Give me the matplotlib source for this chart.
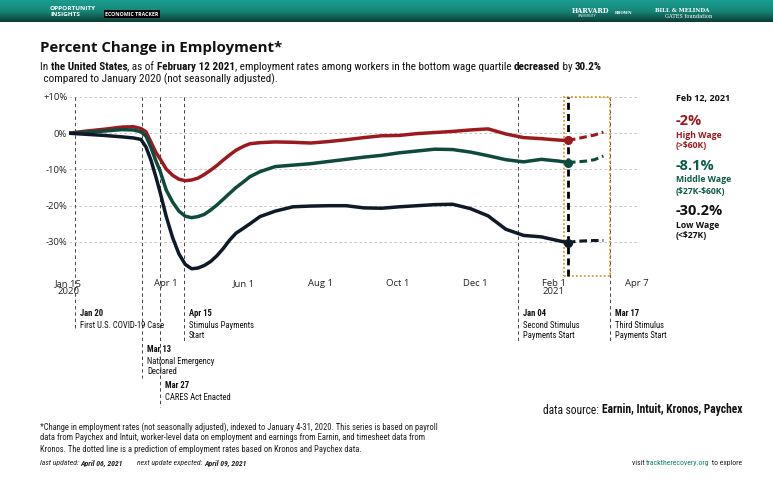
import matplotlib
matplotlib.use("Agg")
import matplotlib.pyplot as plt
import matplotlib.dates as mdates
import matplotlib.transforms as mtransforms
from matplotlib import font_manager
from matplotlib.patches import Rectangle
import numpy as np
import pandas as pd

# ---- data ----
dates = pd.to_datetime([
    "2020-01-15", "2020-01-29", "2020-02-12", "2020-02-26", "2020-03-06", "2020-03-12",
    "2020-03-16", "2020-03-20", "2020-03-24", "2020-03-27", "2020-04-01", "2020-04-06",
    "2020-04-11", "2020-04-16", "2020-04-21", "2020-04-26", "2020-05-01", "2020-05-06",
    "2020-05-11", "2020-05-16", "2020-05-21", "2020-05-26", "2020-06-01", "2020-06-06",
    "2020-06-14", "2020-06-26", "2020-07-10", "2020-07-24", "2020-08-07", "2020-08-21",
    "2020-09-04", "2020-09-18", "2020-10-02", "2020-10-16", "2020-10-30", "2020-11-13",
    "2020-11-27", "2020-12-11", "2020-12-25", "2021-01-08", "2021-01-22", "2021-02-05",
    "2021-02-12",
])
high_wage = [0, 0.6, 1.1, 1.7, 1.8, 1.3, 0.4, -2.5, -5.4, -7.0, -9.9, -11.6,
             -12.7, -13.1, -12.9, -12.4, -11.4, -10.2, -8.9, -7.4, -6.0, -4.7, -3.6, -2.9,
             -2.6, -2.4, -2.5, -2.7, -2.3, -1.8, -1.2, -0.7, -0.6, -0.1, 0.2, 0.5,
             0.9, 1.2, -0.2, -1.2, -1.5, -1.9, -2.0]
middle_wage = [0, 0.3, 0.6, 1.0, 0.9, 0.4, -0.8, -4.0, -7.8, -10.3, -15.7, -19.0,
               -21.5, -22.9, -23.3, -23.0, -22.4, -21.2, -19.8, -18.2, -16.6, -15.0, -13.4, -12.0,
               -10.6, -9.2, -8.8, -8.4, -7.8, -7.2, -6.6, -6.1, -5.4, -4.9, -4.4, -4.5,
               -5.2, -6.2, -7.3, -7.9, -7.2, -7.7, -8.1]
low_wage = [0, -0.3, -0.6, -1.0, -1.3, -1.7, -3.8, -7.5, -12.3, -16.1, -23.0, -28.8,
            -33.3, -36.2, -37.4, -37.2, -36.5, -35.4, -33.8, -31.8, -29.5, -27.6, -26.2, -25.0,
            -23.0, -21.5, -20.3, -20.1, -20.0, -20.0, -20.6, -20.7, -20.3, -20.0, -19.7, -19.6,
            -20.8, -22.8, -26.5, -28.2, -28.6, -29.7, -30.2]

pred_dates = pd.to_datetime(["2021-02-12", "2021-02-19", "2021-02-26", "2021-03-05", "2021-03-12"])
high_pred = [-2.0, -1.5, -1.0, -0.5, 0.3]
middle_pred = [-8.1, -7.9, -7.7, -7.3, -6.3]
low_pred = [-30.2, -29.8, -29.7, -29.6, -29.6]

tick_dates = pd.to_datetime(["2020-01-15", "2020-04-01", "2020-06-01", "2020-08-01",
                             "2020-10-01", "2020-12-01", "2021-02-01", "2021-04-07"])
tick_labels = ["Jan 15\n2020", "Apr 1", "Jun 1", "Aug 1", "Oct 1", "Dec 1", "Feb 1\n2021", "Apr 7"]
y_ticks = [10, 0, -10, -20, -30]
y_labels = ["+10%", "0%", "-10%", "-20%", "-30%"]

# event date, bold label, description lines, pixel y of label, pixel y where the line stops
events = [
    ("2020-01-20", "Jan 20", ["First U.S. COVID-19 Case"], 314, 329),
    ("2020-03-13", "Mar 13", ["National Emergency", "Declared"], 350, 378),
    ("2020-03-27", "Mar 27", ["CARES Act Enacted"], 386, 407),
    ("2020-04-15", "Apr 15", ["Stimulus Payments", "Start"], 314, 343),
    ("2021-01-04", "Jan 04", ["Second Stimulus", "Payments Start"], 314, 343),
    ("2021-03-17", "Mar 17", ["Third Stimulus", "Payments Start"], 314, 343),
]

RED = "#9c1a1f"
GREEN = "#0e4a3d"
GREEN_TXT = "#0c5a47"
NAVY = "#0f1a28"
W, H = 773, 483


def pick(*names):
    for n in names:
        try:
            font_manager.findfont(font_manager.FontProperties(family=n), fallback_to_default=False)
            return n
        except Exception:
            pass
    return "DejaVu Sans"


NARROW = pick("Liberation Sans Narrow", "Roboto Condensed", "Open Sans", "Noto Sans")
MAIN = pick("Open Sans", "Noto Sans")
plt.rcParams["font.family"] = MAIN

fig = plt.figure(figsize=(W / 100, H / 100), dpi=100)
fig.patch.set_facecolor("white")


def fy(p):
    return 1 - p / H


def fx(p):
    return p / W


def rich(x, y, parts, size, family, ha="left"):
    """Place runs of text (text, weight, color, style) side by side at pixel (x, y)."""
    r = fig.canvas.get_renderer()
    objs = []
    for txt, weight, color, style in parts:
        t = fig.text(0, fy(y), txt, fontsize=size, fontweight=weight, color=color,
                     fontstyle=style, family=family, va="center", ha="left")
        objs.append(t)
    widths = [t.get_window_extent(r).width for t in objs]
    start = x if ha == "left" else x - sum(widths)
    for t, w in zip(objs, widths):
        t.set_x(fx(start))
        start += w


# ---- header band ----
hax = fig.add_axes([0, fy(22), 1, 22 / H])
grad = np.linspace(0, 1, 50)[:, None]
cmap = matplotlib.colors.LinearSegmentedColormap.from_list("hdr", ["#1c9d8f", "#168678", "#0b3d37"])
hax.imshow(grad, aspect="auto", cmap=cmap, extent=[0, 1, 0, 1])
hax.set_axis_off()
fig.text(fx(50), fy(8), "OPPORTUNITY", color="white", fontsize=4.6, fontweight="bold", va="center")
fig.text(fx(50), fy(15), "INSIGHTS", color="white", fontsize=4.6, fontweight="bold", va="center")
fig.text(fx(105), fy(14), "ECONOMIC TRACKER", color="white", fontsize=3.8, fontweight="bold", va="center",
         bbox=dict(boxstyle="square,pad=0.25", fc="black", ec="none"))
fig.text(fx(572), fy(11), "HARVARD", color="white", fontsize=4.8, fontweight="bold", va="center", family="DejaVu Serif")
fig.text(fx(578), fy(16), "UNIVERSITY", color="white", fontsize=2.4, va="center")
fig.text(fx(615), fy(13), "BROWN", color="white", fontsize=2.8, fontweight="bold", va="center", family="DejaVu Serif")
fig.text(fx(655), fy(10), "BILL & MELINDA", color="white", fontsize=4.0, fontweight="bold", va="center", family="DejaVu Serif")
fig.text(fx(665), fy(16), "GATES foundation", color="white", fontsize=3.6, va="center", family="DejaVu Serif")

# ---- titles ----
fig.text(fx(40), fy(48), "Percent Change in Employment*", fontsize=10.8, fontweight="bold",
         color="#111", va="center")
rich(40, 67, [("In ", "normal", "#111", "normal"), ("the United States", "bold", "#111", "normal"),
              (", as of ", "normal", "#111", "normal"), ("February 12 2021", "bold", "#111", "normal"),
              (", employment rates among workers in the bottom wage quartile ", "normal", "#111", "normal"),
              ("decreased", "bold", "#111", "normal"), (" by ", "normal", "#111", "normal"),
              ("30.2%", "bold", "#111", "normal")], 8.05, NARROW)
fig.text(fx(41), fy(79), " compared to January 2020 (not seasonally adjusted).", fontsize=8.05,
         family=NARROW, color="#111", va="center")

# ---- main axes ----
left_px, right_px, top_px, bot_px = 68.7, 640, 97, 276
ax = fig.add_axes([fx(left_px), fy(bot_px), fx(right_px - left_px), (bot_px - top_px) / H])
x0 = pd.Timestamp("2020-01-15")
x1 = x0 + pd.Timedelta(days=(right_px - left_px) / 1.267)
ax.set_xlim(x0, x1)
ax.set_ylim(-39.4, 10)
for s in ax.spines.values():
    s.set_visible(False)
for yv in y_ticks:
    ax.axhline(yv, color="#bdbdbd", lw=0.6, dashes=(3, 3), zorder=1)
ax.set_yticks(y_ticks)
ax.set_yticklabels(y_labels)
ax.set_xticks(tick_dates)
ax.set_xticklabels(tick_labels)
ax.tick_params(length=0, labelsize=6.8, colors="#222", pad=2)
ax.tick_params(axis="y", pad=1)
for lab in ax.get_xticklabels():
    lab.set_linespacing(0.9)

# event lines and labels
blend = mtransforms.blended_transform_factory(ax.transData, fig.transFigure)
txt_trans = mtransforms.offset_copy(blend, fig=fig, x=5, y=0, units="dots")
for d, head, lines, ly, stop in events:
    dd = pd.Timestamp(d)
    ax.plot([dd, dd], [fy(top_px), fy(stop)], transform=blend, color="#444", lw=0.7,
            dashes=(3.5, 3), clip_on=False, zorder=1)
    ax.text(dd, fy(ly), head, transform=txt_trans, fontsize=6.2, fontweight="bold",
            color="#111", va="center", family=NARROW)
    for i, ln in enumerate(lines):
        ax.text(dd, fy(ly + 11 + 11 * i), ln, transform=txt_trans, fontsize=6.2,
                color="#111", va="center", family=NARROW)

# prediction box and latest-date marker line
box_l = pd.Timestamp("2021-02-09")
box_r = pd.Timestamp("2021-03-17")
ax.add_patch(Rectangle((mdates.date2num(box_l), -39.4), mdates.date2num(box_r) - mdates.date2num(box_l),
                       49.4, fill=False, ec="#d99a2b", lw=1.3, ls=(0, (1, 1.2)), zorder=2, clip_on=False))
feb12 = pd.Timestamp("2021-02-12")
ax.plot([feb12, feb12], [-39.4, 10], color="black", lw=2, dashes=(2.5, 1.5), zorder=3, clip_on=False)

# series
for vals, pred, col in [(high_wage, high_pred, RED), (middle_wage, middle_pred, GREEN),
                        (low_wage, low_pred, NAVY)]:
    ax.plot(dates, vals, color=col, lw=2.5, solid_capstyle="round", solid_joinstyle="round", zorder=4)
    ax.plot(pred_dates, pred, color=col, lw=2.2, dashes=(2.5, 1.3), zorder=4)
    ax.plot([dates[-1]], [vals[-1]], "o", color=col, ms=5.5, zorder=5)

# ---- right-hand labels ----
fig.text(fx(676), fy(98), "Feb 12, 2021", fontsize=6.5, fontweight="bold", color="#111", va="center")
for val, name, rng, col, y in [("-2%", "High Wage", r"(>\$60K)", RED, 121),
                               ("-8.1%", "Middle Wage", r"(\$27K-\$60K)", GREEN_TXT, 166),
                               ("-30.2%", "Low Wage", r"(<\$27K)", "#111", 211)]:
    fig.text(fx(676), fy(y), val, fontsize=10.5, fontweight="bold", color=col, va="center")
    fig.text(fx(676), fy(y + 14), name, fontsize=6.2, fontweight="bold", color=col, va="center")
    fig.text(fx(676), fy(y + 25), rng, fontsize=6.2, fontweight="bold", color=col, va="center")

# ---- footer ----
rich(742, 410, [("data source: ", "normal", "#111", "normal"),
                ("Earnin, Intuit, Kronos, Paychex", "bold", "#111", "normal")], 8.3, NARROW, ha="right")
foot = ["*Change in employment rates (not seasonally adjusted), indexed to January 4-31, 2020. This series is based on payroll",
        "data from Paychex and Intuit, worker-level data on employment and earnings from Earnin, and timesheet data from",
        "Kronos. The dotted line is a prediction of employment rates based on Kronos and Paychex data."]
for i, ln in enumerate(foot):
    fig.text(fx(40), fy(427 + 11 * i), ln, fontsize=6.2, family=NARROW, color="#222", va="center")
rich(40, 463, [("last updated: ", "normal", "#222", "italic"), ("April 06, 2021", "bold", "#222", "italic")],
     5.6, NARROW)
rich(137, 463, [("next update expected: ", "normal", "#222", "italic"),
                ("April 09, 2021", "bold", "#222", "italic")], 5.6, NARROW)
rich(742, 463, [("visit ", "normal", "#222", "normal"), ("tracktherecovery.org", "normal", "#12806f", "normal"),
                (" to explore", "normal", "#222", "normal")], 5.6, NARROW, ha="right")

fig.savefig("out.png", dpi=100)
